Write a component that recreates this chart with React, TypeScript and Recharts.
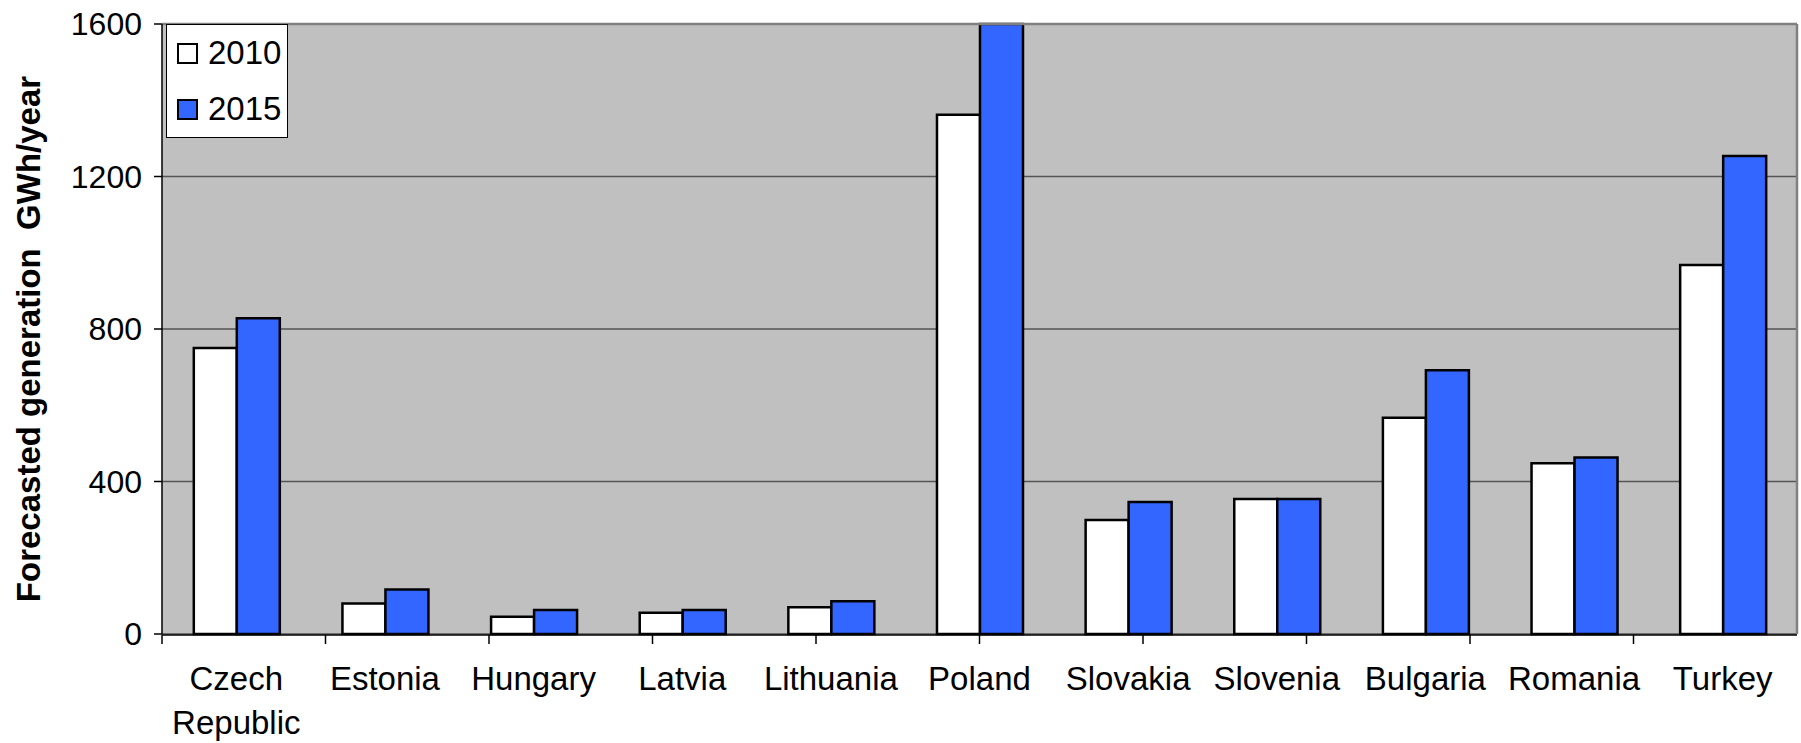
import { BarChart, Bar, XAxis, YAxis, CartesianGrid, Legend } from "recharts";

const FONT = '"Liberation Sans", Arial, sans-serif';

const categories = [
  "Czech Republic",
  "Estonia",
  "Hungary",
  "Latvia",
  "Lithuania",
  "Poland",
  "Slovakia",
  "Slovenia",
  "Bulgaria",
  "Romania",
  "Turkey",
];
const gen2010 = [750, 80, 45, 56, 70, 1362, 299, 354, 567, 448, 968];
const gen2015 = [828, 117, 63, 63, 86, 1600, 346, 354, 692, 463, 1254];
const yTicks = [0, 400, 800, 1200, 1600];

const data = categories.map((name, i) => ({
  name,
  y2010: gen2010[i],
  y2015: gen2015[i],
}));

// tick marks sit on the category boundaries, like Excel does
const edgeTicks = [...categories.map((_, i) => i), categories.length];

// one word per line, so "Czech Republic" wraps as in the original
const CategoryTick = ({ x, y, payload }: any) => {
  const words = String(payload.value).split(" ");
  return (
    <text x={x} y={y} textAnchor="middle" fontSize={33} fontFamily={FONT} fill="#000">
      {words.map((w, i) => (
        <tspan key={i} x={x} dy={i === 0 ? "0.71em" : 44}>
          {w}
        </tspan>
      ))}
    </text>
  );
};

const LegendBox = ({ payload }: any) => (
  <div
    style={{
      width: 122,
      height: 114,
      boxSizing: "border-box",
      border: "1px solid #000",
      background: "#fff",
      fontFamily: FONT,
      fontSize: 33,
      color: "#000",
    }}
  >
    {(payload || []).map((p: any) => (
      <div key={p.value} style={{ height: 56, display: "flex", alignItems: "center" }}>
        <span
          style={{
            display: "inline-block",
            width: 17,
            height: 17,
            marginLeft: 10,
            border: "2px solid #000",
            background: p.color,
          }}
        />
        <span style={{ marginLeft: 10 }}>{p.value}</span>
      </div>
    ))}
  </div>
);

export default function App() {
  return (
    <div style={{ position: "absolute", left: 0, top: 0, background: "#fff" }}>
      <BarChart
        width={1801}
        height={743}
        data={data}
        margin={{ top: 23, right: 3, bottom: 107, left: 0 }}
        barCategoryGap="21.4%"
        barGap={0}
      >
        <CartesianGrid
          xAxisId="cat"
          yAxisId="left"
          vertical={false}
          fill="#C0C0C0"
          fillOpacity={1}
          stroke="#555"
          strokeWidth={1.5}
        />
        <XAxis
          xAxisId="cat"
          dataKey="name"
          height={1}
          interval={0}
          axisLine={false}
          tickLine={false}
          tickSize={0}
          tickMargin={33}
          tick={<CategoryTick />}
        />
        <XAxis
          xAxisId="edge"
          type="number"
          domain={[0, categories.length]}
          ticks={edgeTicks}
          tickFormatter={() => ""}
          height={1}
          tickSize={9}
          axisLine={{ stroke: "#000", strokeWidth: 1.5 }}
          tickLine={{ stroke: "#000", strokeWidth: 1.5 }}
        />
        <XAxis
          xAxisId="top"
          orientation="top"
          dataKey="name"
          height={1}
          tick={false}
          tickLine={false}
          axisLine={{ stroke: "#808080", strokeWidth: 2.5 }}
        />
        <YAxis
          yAxisId="left"
          width={162}
          domain={[0, 1600]}
          ticks={yTicks}
          interval={0}
          tickSize={8}
          tickMargin={12}
          axisLine={{ stroke: "#000", strokeWidth: 1.5 }}
          tickLine={{ stroke: "#000", strokeWidth: 1.5 }}
          tick={{ fontSize: 32, fill: "#000", fontFamily: FONT }}
          label={{
            value: "Forecasted generation\u00a0 GWh/year",
            angle: -90,
            position: "insideLeft",
            offset: 28,
            dy: 10,
            style: {
              textAnchor: "middle",
              fontWeight: "bold",
              fontSize: 33,
              fill: "#000",
              fontFamily: FONT,
            },
          }}
        />
        <YAxis
          yAxisId="right"
          orientation="right"
          width={1}
          domain={[0, 1600]}
          tick={false}
          tickLine={false}
          axisLine={{ stroke: "#808080", strokeWidth: 2.5 }}
        />
        <Legend
          layout="vertical"
          align="center"
          verticalAlign="middle"
          content={<LegendBox />}
          wrapperStyle={{ left: 166, top: 24, width: 122, height: 114 }}
        />
        <Bar
          xAxisId="cat"
          yAxisId="left"
          dataKey="y2010"
          name="2010"
          fill="#FFFFFF"
          stroke="#000"
          strokeWidth={2.5}
          isAnimationActive={false}
        />
        <Bar
          xAxisId="cat"
          yAxisId="left"
          dataKey="y2015"
          name="2015"
          fill="#3366FF"
          stroke="#000"
          strokeWidth={2.5}
          isAnimationActive={false}
        />
      </BarChart>
    </div>
  );
}
